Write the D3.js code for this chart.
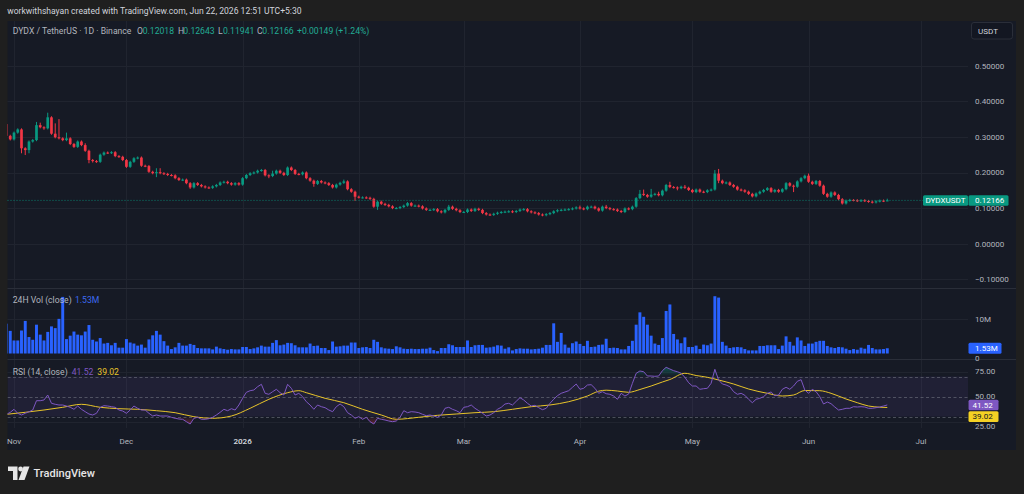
<!DOCTYPE html>
<html><head><meta charset="utf-8">
<script src="https://cdn.jsdelivr.net/npm/d3@7"></script>
<style>
html,body{margin:0;padding:0;background:#1f1f1f;overflow:hidden;}
svg{display:block;font-family:Roboto,"Noto Sans",sans-serif;}
</style></head><body>
<svg id="chart" width="1024" height="494"></svg>
<script>
// ---------------- DATA ----------------
const startDate = "2025-10-30";           // first (partly visible) daily candle
const firstOpen = 0.336;
const closes = [
0.303,0.293,0.312,0.321,0.268,0.263,0.287,0.291,0.333,0.327,
0.324,0.355,0.309,0.299,0.296,0.291,0.296,0.280,0.272,0.287,
0.277,0.261,0.235,0.232,0.230,0.250,0.256,0.255,0.257,0.246,
0.244,0.235,0.216,0.230,0.240,0.242,0.219,0.218,0.202,0.198,
0.201,0.198,0.196,0.193,0.192,0.184,0.179,0.180,0.170,0.158,
0.170,0.165,0.161,0.158,0.157,0.161,0.165,0.172,0.174,0.170,
0.166,0.170,0.166,0.184,0.193,0.198,0.200,0.205,0.207,0.192,
0.190,0.197,0.205,0.199,0.193,0.214,0.207,0.196,0.195,0.200,
0.184,0.177,0.168,0.176,0.172,0.170,0.165,0.158,0.166,0.171,
0.175,0.153,0.146,0.132,0.130,0.130,0.129,0.126,0.104,0.118,
0.112,0.109,0.105,0.100,0.100,0.103,0.107,0.114,0.107,0.107,
0.105,0.099,0.095,0.095,0.097,0.091,0.088,0.095,0.104,0.098,
0.094,0.089,0.089,0.096,0.092,0.098,0.095,0.086,0.082,0.081,
0.084,0.087,0.089,0.090,0.091,0.089,0.092,0.096,0.097,0.091,
0.088,0.086,0.082,0.080,0.083,0.086,0.091,0.094,0.095,0.096,
0.097,0.099,0.102,0.099,0.097,0.104,0.104,0.099,0.093,0.104,
0.100,0.097,0.096,0.092,0.089,0.099,0.097,0.104,0.128,0.140,
0.137,0.132,0.138,0.140,0.136,0.149,0.165,0.159,0.158,0.156,
0.160,0.157,0.151,0.145,0.152,0.146,0.145,0.150,0.152,0.197,
0.177,0.170,0.172,0.165,0.160,0.152,0.150,0.146,0.140,0.133,
0.141,0.146,0.151,0.156,0.146,0.151,0.146,0.153,0.170,0.163,
0.160,0.175,0.184,0.191,0.174,0.168,0.176,0.163,0.140,0.132,
0.144,0.137,0.125,0.113,0.121,0.123,0.122,0.120,0.122,0.120,
0.118,0.116,0.119,0.121,0.12018,0.12166];
const highs = [
0.340,0.306,0.315,0.324,0.324,0.271,0.290,0.294,0.342,0.340,
0.330,0.368,0.358,0.338,0.350,0.299,0.312,0.299,0.283,0.290,
0.290,0.282,0.264,0.238,0.235,0.253,0.259,0.259,0.260,0.260,
0.249,0.247,0.238,0.233,0.243,0.245,0.245,0.222,0.221,0.205,
0.212,0.212,0.201,0.199,0.196,0.195,0.187,0.183,0.183,0.173,
0.173,0.173,0.168,0.164,0.161,0.164,0.168,0.175,0.177,0.177,
0.173,0.173,0.173,0.187,0.196,0.201,0.203,0.208,0.210,0.210,
0.195,0.205,0.208,0.208,0.202,0.217,0.217,0.210,0.199,0.203,
0.203,0.187,0.180,0.179,0.179,0.175,0.173,0.168,0.169,0.174,
0.180,0.178,0.156,0.149,0.135,0.133,0.133,0.132,0.129,0.121,
0.121,0.115,0.112,0.108,0.103,0.106,0.110,0.117,0.117,0.110,
0.110,0.108,0.102,0.098,0.100,0.100,0.094,0.098,0.109,0.107,
0.101,0.097,0.092,0.099,0.099,0.101,0.101,0.098,0.089,0.085,
0.087,0.090,0.092,0.093,0.094,0.094,0.095,0.099,0.100,0.100,
0.094,0.091,0.089,0.085,0.086,0.089,0.094,0.097,0.098,0.099,
0.100,0.102,0.105,0.107,0.102,0.107,0.107,0.107,0.102,0.107,
0.109,0.103,0.100,0.099,0.095,0.102,0.102,0.107,0.131,0.151,
0.152,0.140,0.154,0.143,0.146,0.152,0.168,0.174,0.162,0.161,
0.163,0.165,0.160,0.154,0.155,0.155,0.149,0.153,0.155,0.207,
0.210,0.180,0.175,0.175,0.168,0.163,0.155,0.153,0.149,0.143,
0.144,0.149,0.154,0.159,0.159,0.154,0.154,0.156,0.173,0.173,
0.166,0.178,0.187,0.194,0.197,0.177,0.179,0.179,0.166,0.143,
0.147,0.147,0.140,0.128,0.124,0.126,0.125,0.125,0.125,0.125,
0.123,0.121,0.122,0.124,0.124,0.12643];
const lows = [
0.300,0.290,0.290,0.309,0.254,0.249,0.254,0.284,0.288,0.324,
0.320,0.321,0.306,0.296,0.293,0.288,0.288,0.277,0.269,0.269,
0.274,0.258,0.226,0.228,0.227,0.227,0.247,0.252,0.252,0.243,
0.241,0.232,0.213,0.213,0.227,0.237,0.216,0.215,0.199,0.195,
0.187,0.195,0.193,0.190,0.189,0.181,0.176,0.176,0.167,0.154,
0.155,0.162,0.158,0.155,0.154,0.154,0.158,0.162,0.169,0.167,
0.163,0.163,0.163,0.163,0.181,0.190,0.195,0.197,0.202,0.189,
0.184,0.187,0.194,0.196,0.190,0.190,0.204,0.193,0.192,0.192,
0.181,0.174,0.160,0.165,0.169,0.167,0.162,0.155,0.155,0.163,
0.168,0.150,0.143,0.120,0.127,0.127,0.126,0.123,0.101,0.095,
0.109,0.106,0.102,0.097,0.097,0.097,0.100,0.104,0.104,0.104,
0.102,0.096,0.092,0.092,0.092,0.088,0.085,0.085,0.092,0.095,
0.091,0.086,0.086,0.086,0.089,0.089,0.092,0.083,0.079,0.078,
0.078,0.081,0.084,0.086,0.087,0.086,0.086,0.089,0.093,0.088,
0.085,0.083,0.079,0.077,0.077,0.080,0.083,0.088,0.091,0.092,
0.093,0.094,0.096,0.096,0.094,0.094,0.101,0.096,0.090,0.090,
0.097,0.094,0.093,0.089,0.086,0.086,0.094,0.094,0.101,0.125,
0.134,0.129,0.129,0.135,0.133,0.133,0.146,0.156,0.155,0.150,
0.153,0.154,0.148,0.142,0.142,0.143,0.142,0.142,0.147,0.149,
0.170,0.167,0.167,0.162,0.157,0.149,0.147,0.143,0.137,0.130,
0.130,0.138,0.143,0.148,0.143,0.143,0.143,0.143,0.150,0.160,
0.145,0.157,0.172,0.181,0.171,0.165,0.165,0.160,0.137,0.129,
0.129,0.134,0.122,0.110,0.110,0.118,0.119,0.117,0.117,0.117,
0.115,0.113,0.113,0.116,0.117,0.11941];
const volumesM = [
8.7,6.6,3.8,3.8,6.7,9.5,4.8,4.0,8.4,5.5,
3.8,6.3,7.9,7.4,10.1,16.5,4.2,5.2,6.4,5.5,
5.3,6.4,8.3,4.0,3.5,4.5,2.9,3.1,2.4,3.1,
1.7,1.7,4.2,3.2,2.9,2.3,2.6,1.7,4.1,5.3,
6.6,5.5,3.6,2.3,1.3,1.8,3.1,2.3,2.3,2.8,
2.5,1.6,1.5,1.5,1.5,1.2,2.0,1.5,1.3,1.1,
1.3,1.2,1.2,1.9,1.9,1.3,1.5,1.8,2.3,2.0,
2.0,3.1,3.9,2.4,2.6,3.1,3.0,2.4,1.8,1.8,
1.8,2.9,2.2,2.3,1.6,1.6,1.0,3.5,2.0,2.1,
2.3,2.3,3.2,3.2,1.6,1.8,1.9,1.6,4.0,3.4,
1.8,1.5,1.4,1.3,2.1,1.8,1.4,1.3,1.4,1.3,
1.3,1.4,1.4,1.7,1.0,0.7,1.6,1.6,2.7,2.4,
1.9,1.9,1.9,3.8,1.9,2.4,2.5,2.5,1.7,1.8,
2.0,2.4,2.3,1.4,1.8,0.9,1.3,1.5,1.4,1.4,
1.2,1.3,1.4,1.7,2.5,2.5,8.8,3.4,6.0,2.6,
1.7,3.0,3.5,2.8,2.2,3.7,1.9,2.0,2.5,2.6,
4.3,1.6,1.7,1.6,1.2,1.2,2.2,3.7,8.4,12.0,
10.7,8.4,5.2,2.9,2.5,4.5,12.4,14.3,5.7,4.1,
3.0,4.7,1.9,1.9,2.3,1.3,2.6,2.4,2.9,16.7,
16.3,3.4,2.3,1.6,1.8,1.9,1.8,1.3,0.9,0.9,
0.9,2.2,2.2,2.4,2.4,2.4,1.3,2.3,5.0,3.4,
2.3,4.7,3.8,2.2,2.9,2.9,3.4,3.7,3.7,2.2,
1.8,1.6,1.9,1.8,1.4,1.0,1.3,1.1,1.7,1.4,
2.5,1.6,1.2,1.2,1.3,1.53];
const rsi = [
32.2,34.2,37.2,33.2,31.5,33.2,34.8,36.5,45.8,45.8,
46.5,51.5,43.2,42.2,41.5,41.5,40.5,39.2,37.2,40.5,
37.2,34.8,32.5,31.5,33.2,39.2,40.8,40.5,39.8,39.2,
36.5,35.5,33.2,36.5,40.5,38.2,36.5,36.5,33.2,30.5,
31.5,30.5,30.5,30.5,29.2,28.2,27.5,27.2,24.8,22.5,
28.2,29.2,27.2,27.2,27.8,29.2,31.5,34.2,37.2,35.8,
37.8,36.5,41.5,48.2,54.2,55.8,56.5,59.8,62.2,53.2,
52.2,54.8,57.2,53.8,51.5,62.2,58.2,51.5,53.2,49.8,
44.8,41.5,37.2,41.5,39.8,38.8,36.5,34.8,39.8,42.5,
39.8,33.8,31.5,28.2,29.8,27.2,29.2,24.8,22.5,28.2,
27.2,26.5,25.5,24.8,25.5,29.2,35.8,33.8,34.8,34.5,
33.8,32.2,30.8,31.5,30.5,29.2,31.5,38.2,39.2,37.2,
35.8,33.8,39.2,39.8,41.5,38.2,35.8,33.2,30.5,31.5,
33.8,37.2,39.2,42.5,43.2,41.5,45.2,48.8,46.5,43.2,
40.5,41.2,38.8,36.8,38.2,43.2,47.2,50.8,53.2,54.5,
55.8,59.2,62.5,57.2,58.2,61.5,61.8,58.2,53.2,54.8,
52.8,52.2,50.5,47.2,53.2,50.5,52.5,63.2,73.2,75.5,
74.8,70.5,70.5,70.2,70.5,75.8,79.2,77.5,75.8,74.8,
73.2,69.2,63.8,60.5,60.5,57.2,57.8,58.2,63.2,77.2,
66.5,62.5,61.5,59.8,54.8,52.2,53.2,51.2,47.2,43.8,
47.2,48.2,49.8,53.2,54.5,50.8,51.5,57.2,59.2,57.2,
60.5,65.2,66.8,56.5,53.2,57.2,54.8,49.8,42.5,44.5,
42.8,39.5,36.5,37.2,38.2,38.2,39.8,39.5,39.8,39.5,
38.2,38.2,38.8,39.5,40.5,41.52];
// RSI-based moving average, read at candle index -> value
const rsiMaIndex = [0,5,10,15,20,25,30,35,40,45,50,55,60,65,70,75,78,80,85,90,95,100,104,110,115,120,125,130,135,140,145,150,155,158,160,163,166,169,172,175,177,181,184,187,190,194,198,203,207,210,213,217,220,224,227,230,233,235];
const rsiMaValue = [32.2,34.2,36.5,39.2,42.2,39.2,37.8,37.2,35.8,33.8,29.8,28.2,30.5,38.2,47.2,53.8,55.8,53.8,48.2,43.8,37.2,31.5,27.2,29.2,31.2,32.5,33.8,34.8,37.2,39.8,41.5,44.8,50.5,55.3,56.3,55.5,54.2,57.0,60.5,64.5,67.0,73.2,71.0,69.2,66.5,62.5,57.5,53.2,50.5,51.5,56.0,55.8,53.2,47.5,43.8,40.5,39.3,39.02];
const priceTicks = [0.5,0.4,0.3,0.2,0.1,0.0,-0.1];
const volTicks = [10,0];
const rsiTicks = [75,50,25];
const rsiBands = [70,50,30];
const monthTicks = ["2025-11-01","2025-12-01","2026-01-01","2026-02-01","2026-03-01","2026-04-01","2026-05-01","2026-06-01","2026-07-01"];
const monthLabels = ["Nov","Dec","2026","Feb","Mar","Apr","May","Jun","Jul"];
const symbolLabel = "DYDXUSDT";
const headerText = "workwithshayan created with TradingView.com, Jun 22, 2026 12:51 UTC+5:30";
const titleText = "DYDX / TetherUS · 1D · Binance";
const ohlcLegend = [["O","0.12018"],["H","0.12643"],["L","0.11941"],["C","0.12166"]];
const changeText = "+0.00149 (+1.24%)";
const lastVolText = "1.53M";

// ---------------- SETUP ----------------
const W = 1024, H = 494;
const svg = d3.select("#chart");
const P = {x0:7.5, x1:1016, y0:21, y1:450, plotR:968, price:[21,288], vol:[289,359], rsi:[360,428]};
const C = {bg:"#1f1f1f", panel:"#161a25", grid:"#20242f", sep:"#2a2e39", text:"#b2b5be",
  up:"#089981", down:"#f23645", vol:"#2962ff", rsi:"#7e57c2", ma:"#e8c42a", maBox:"#f5d124"};

const DAY = 86400000;
const t0 = Date.parse(startDate + "T00:00:00Z");
const candles = closes.map((c,i)=>({
  date: new Date(t0 + i*DAY),
  open: i===0 ? firstOpen : closes[i-1],
  high: highs[i], low: lows[i], close: c, vol: volumesM[i], rsi: rsi[i]
}));
const maPts = rsiMaIndex.map((k,j)=>({date:new Date(t0+k*DAY), v:rsiMaValue[j]}));

const x = d3.scaleUtc()
  .domain([new Date(Date.parse(monthTicks[0]+"T00:00:00Z")), new Date(Date.parse(monthTicks[8]+"T00:00:00Z"))])
  .range([14, 921]);
const step = x(new Date(t0+DAY)) - x(new Date(t0));
const yP = d3.scaleLinear().domain([-0.1,0.5]).range([279.3,65.7]);
const yV = d3.scaleLinear().domain([0,10]).range([353.5,319.2]);
const yR = d3.scaleLinear().domain([25,75]).range([421.5,371.5]);

svg.append("rect").attr("width",W).attr("height",H).attr("fill",C.bg);
svg.append("rect").attr("x",P.x0).attr("y",P.y0).attr("width",P.x1-P.x0).attr("height",P.y1-P.y0).attr("fill",C.panel);

const defs = svg.append("defs");
function clip(id, y0, y1){
  defs.append("clipPath").attr("id",id).append("rect")
    .attr("x",P.x0).attr("y",y0).attr("width",P.plotR-P.x0).attr("height",y1-y0);
}
clip("cPrice", P.price[0], P.price[1]);
clip("cVol", P.vol[0], P.vol[1]);
clip("cRsi", P.rsi[0], P.rsi[1]);
defs.append("clipPath").attr("id","cOB").append("rect").attr("x",P.x0).attr("y",P.rsi[0]).attr("width",P.plotR-P.x0).attr("height",yR(70)-P.rsi[0]);
defs.append("clipPath").attr("id","cOS").append("rect").attr("x",P.x0).attr("y",yR(30)).attr("width",P.plotR-P.x0).attr("height",P.rsi[1]-yR(30));
function vgrad(id, yFrom, yTo, color, opFrom, opTo){
  const g = defs.append("linearGradient").attr("id",id).attr("gradientUnits","userSpaceOnUse")
    .attr("x1",0).attr("x2",0).attr("y1",yFrom).attr("y2",yTo);
  g.append("stop").attr("offset",0).attr("stop-color",color).attr("stop-opacity",opFrom);
  g.append("stop").attr("offset",1).attr("stop-color",color).attr("stop-opacity",opTo);
}
vgrad("gOB", yR(70), yR(85), "#089981", 0.0, 0.7);
vgrad("gOS", yR(30), yR(15), "#f23645", 0.0, 0.7);

// grid
const grid = svg.append("g").attr("stroke",C.grid).attr("stroke-width",1);
monthTicks.forEach(m=>{
  const xx = Math.round(x(new Date(Date.parse(m+"T00:00:00Z"))))+0.5;
  grid.append("line").attr("x1",xx).attr("x2",xx).attr("y1",P.y0).attr("y2",P.rsi[1]);
});
priceTicks.forEach(v=>{
  const yy = Math.round(yP(v))+0.5;
  grid.append("line").attr("x1",P.x0).attr("x2",P.plotR).attr("y1",yy).attr("y2",yy);
});
[10].forEach(v=>{ const yy=Math.round(yV(v))+0.5; grid.append("line").attr("x1",P.x0).attr("x2",P.plotR).attr("y1",yy).attr("y2",yy); });
[75,25].forEach(v=>{ const yy=Math.round(yR(v))+0.5; grid.append("line").attr("x1",P.x0).attr("x2",P.plotR).attr("y1",yy).attr("y2",yy); });

// pane separators
[288.5, 359.5].forEach(yy=>{
  svg.append("line").attr("x1",P.x0).attr("x2",P.x1).attr("y1",yy).attr("y2",yy).attr("stroke",C.sep).attr("stroke-width",1);
});

// ---------------- PRICE PANE ----------------
const gP = svg.append("g").attr("clip-path","url(#cPrice)");
const bw = Math.max(1, step*0.72);
gP.selectAll("line.wick").data(candles).join("line").attr("class","wick")
  .attr("x1",d=>x(d.date)).attr("x2",d=>x(d.date))
  .attr("y1",d=>yP(d.high)).attr("y2",d=>yP(d.low))
  .attr("stroke",d=>d.close>=d.open?C.up:C.down).attr("stroke-width",1);
gP.selectAll("rect.body").data(candles).join("rect").attr("class","body")
  .attr("x",d=>x(d.date)-bw/2).attr("width",bw)
  .attr("y",d=>yP(Math.max(d.open,d.close)))
  .attr("height",d=>Math.max(1, Math.abs(yP(d.open)-yP(d.close))))
  .attr("fill",d=>d.close>=d.open?C.up:C.down);

const last = candles[candles.length-1];
const yLast = yP(last.close);
svg.append("line").attr("x1",P.x0).attr("x2",923).attr("y1",yLast).attr("y2",yLast)
  .attr("stroke",C.up).attr("stroke-width",1).attr("stroke-dasharray","1,2").attr("opacity",0.8);

// ---------------- TEXT HELPERS ----------------
function txt(g, s, xx, yy, fs, fill, opts={}){
  const t = g.append("text").attr("x",xx).attr("y",yy).attr("font-size",fs).attr("fill",fill)
    .attr("dy","0.35em").text(s);
  if(opts.anchor) t.attr("text-anchor",opts.anchor);
  if(opts.weight) t.attr("font-weight",opts.weight);
  if(opts.width){
    const w = t.node().getComputedTextLength();
    if(w>0) t.attr("font-size", fs*opts.width/w);
  }
  return t;
}
function fitSize(s, fs, width, weight){
  const t = svg.append("text").attr("font-size",fs).attr("font-weight",weight||400).text(s);
  const w = t.node().getComputedTextLength(); t.remove();
  return w>0 ? fs*width/w : fs;
}
const axisFs = fitSize("0.50000", 9, 29.3);
const gAx = svg.append("g");
priceTicks.forEach(v=> txt(gAx, d3.format(".5f")(v).replace("-","\u2212"), 975, yP(v), axisFs, C.text));

// USDT box
svg.append("rect").attr("x",971.5).attr("y",22.5).attr("width",41).attr("height",16.5).attr("rx",2.5)
  .attr("fill","#131722").attr("stroke","#2a2e39");
txt(svg, "USDT", 978, 30.8, axisFs, "#d1d4dc");

// last price labels
const lblH = 10.5;
svg.append("rect").attr("x",923).attr("y",yLast-lblH/2).attr("width",45).attr("height",lblH).attr("rx",1.5).attr("fill",C.up);
svg.append("rect").attr("x",968.5).attr("y",yLast-lblH/2).attr("width",40).attr("height",lblH).attr("rx",1.5).attr("fill",C.up);
txt(svg, symbolLabel, 945.5, yLast, axisFs, "#ffffff", {anchor:"middle"});
txt(svg, d3.format(".5f")(last.close), 975, yLast, axisFs, "#ffffff");

// ---------------- VOLUME PANE ----------------
const gV = svg.append("g").attr("clip-path","url(#cVol)");
const vw = Math.max(1, step-0.8);
gV.selectAll("rect").data(candles).join("rect")
  .attr("x",d=>x(d.date)-vw/2).attr("width",vw)
  .attr("y",d=>yV(d.vol)).attr("height",d=>yV(0)-yV(d.vol)).attr("fill",C.vol);
txt(gAx, "10M", 975, yV(10), axisFs, C.text);
txt(gAx, "0", 975, yV(0)+5, axisFs, C.text);
svg.append("rect").attr("x",968.5).attr("y",yV(last.vol)-5.5).attr("width",33).attr("height",11).attr("rx",1.5).attr("fill",C.vol);
txt(svg, lastVolText, 975, yV(last.vol), axisFs, "#ffffff");

// ---------------- RSI PANE ----------------
const gR = svg.append("g").attr("clip-path","url(#cRsi)");
gR.append("rect").attr("x",P.x0).attr("width",P.plotR-P.x0).attr("y",yR(70)).attr("height",yR(30)-yR(70))
  .attr("fill",C.rsi).attr("opacity",0.1);
rsiBands.forEach(v=>{
  gR.append("line").attr("x1",P.x0).attr("x2",P.plotR).attr("y1",Math.round(yR(v))+0.5).attr("y2",Math.round(yR(v))+0.5)
    .attr("stroke","#787b86").attr("stroke-opacity",0.55).attr("stroke-dasharray","3,2.5");
});
const aOB = d3.area().x(d=>x(d.date)).y0(yR(70)).y1(d=>yR(d.rsi));
gR.append("g").attr("clip-path","url(#cOB)").append("path").datum(candles).attr("d",aOB).attr("fill","url(#gOB)");
const aOS = d3.area().x(d=>x(d.date)).y0(yR(30)).y1(d=>yR(d.rsi));
gR.append("g").attr("clip-path","url(#cOS)").append("path").datum(candles).attr("d",aOS).attr("fill","url(#gOS)");
gR.append("path").datum(maPts).attr("fill","none").attr("stroke",C.ma).attr("stroke-width",1)
  .attr("d", d3.line().x(d=>x(d.date)).y(d=>yR(d.v)).curve(d3.curveMonotoneX));
gR.append("path").datum(candles).attr("fill","none").attr("stroke",C.rsi).attr("stroke-width",1)
  .attr("d", d3.line().x(d=>x(d.date)).y(d=>yR(d.rsi)));
rsiTicks.forEach(v=> txt(gAx, d3.format(".2f")(v), 975, v===25 ? yR(v)+4.5 : yR(v), axisFs, C.text));
const lastMa = rsiMaValue[rsiMaValue.length-1];
const rb = yR(last.rsi);
svg.append("rect").attr("x",968.5).attr("y",rb-5.3).attr("width",30).attr("height",10.6).attr("rx",1.5).attr("fill",C.rsi);
txt(svg, d3.format(".2f")(last.rsi), 972.5, rb, axisFs, "#ffffff");
const mb = rb + 5.3 + 1 + 5.3;
svg.append("rect").attr("x",968.5).attr("y",mb-5.3).attr("width",30).attr("height",10.6).attr("rx",1.5).attr("fill",C.maBox);
txt(svg, d3.format(".2f")(lastMa), 972.5, mb, axisFs, "#131722");

// ---------------- TIME AXIS ----------------
monthTicks.forEach((m,i)=>{
  const xx = x(new Date(Date.parse(m+"T00:00:00Z")));
  const is = monthLabels[i]==="2026";
  txt(gAx, monthLabels[i], xx, 441.5, axisFs, is?"#d1d4dc":C.text, {anchor:"middle", weight: is?600:400});
});

// ---------------- LEGENDS / HEADER ----------------
txt(svg, headerText, 7.3, 11.3, 9, "#d1d4dc", {width:294.5});
const legFs = fitSize(titleText, 9, 119);
txt(svg, titleText, 12.7, 30.7, legFs, C.text);
const ohlcX = [[137,142.7],[178,183.3],[218,223],[257,262.3]];
ohlcLegend.forEach((p,i)=>{
  txt(svg, p[0], ohlcX[i][0], 30.7, legFs, C.text);
  txt(svg, p[1], ohlcX[i][1], 30.7, legFs, "#22ab94");
});
txt(svg, changeText, 297, 30.7, legFs, "#22ab94");

txt(svg, "24H Vol (close)", 12.7, 300, legFs, C.text);
txt(svg, lastVolText, 75, 300, legFs, "#3d6af2");
txt(svg, "RSI (14, close)", 12.7, 372, legFs, C.text);
txt(svg, d3.format(".2f")(last.rsi), 71.7, 372, legFs, C.rsi);
txt(svg, d3.format(".2f")(lastMa), 97.3, 372, legFs, C.ma);

// ---------------- FOOTER LOGO ----------------
const lg = svg.append("g").attr("fill","#e6e6e6");
lg.append("path").attr("d","M8,466.5 H17.5 V480 H13 V471 H8 Z");
lg.append("circle").attr("cx",20.6).attr("cy",469).attr("r",2.4);
lg.append("path").attr("d","M23.5,466.5 H29.5 L24.5,480 H18.5 Z");
txt(svg, "TradingView", 33.5, 473.5, 14, "#e6e6e6", {weight:500, width:61.5});
</script>
</body></html>
